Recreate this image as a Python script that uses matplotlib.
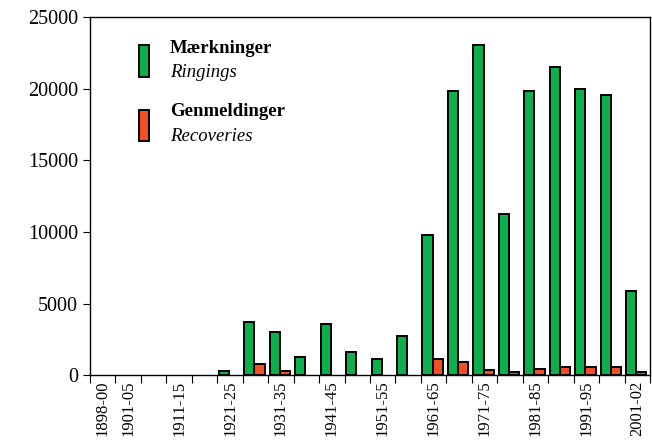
import matplotlib
matplotlib.use("Agg")
import matplotlib.pyplot as plt
from matplotlib.patches import Rectangle
import numpy as np

plt.rcParams['font.family'] = ['Liberation Serif', 'DejaVu Serif']

perioder = ["1898-00", "1901-05", "1906-10", "1911-15", "1916-20", "1921-25",
            "1926-30", "1931-35", "1936-40", "1941-45", "1946-50", "1951-55",
            "1956-60", "1961-65", "1966-70", "1971-75", "1976-80", "1981-85",
            "1986-90", "1991-95", "1996-00", "2001-02"]
maerkninger = [0, 0, 0, 0, 0, 300, 3700, 3000, 1300, 3550, 1600, 1150,
               2700, 9750, 19850, 23050, 11250, 19850, 21500, 19950, 19550, 5900]
genmeldinger = [0, 0, 0, 0, 0, 0, 750, 300, 0, 0, 0, 0,
                0, 1150, 900, 350, 200, 450, 600, 600, 600, 200]
vis_labels = ["1898-00", "1901-05", "1911-15", "1921-25", "1931-35", "1941-45",
              "1951-55", "1961-65", "1971-75", "1981-85", "1991-95", "2001-02"]

groen = "#0bb04b"
roed = "#f24f26"

fig = plt.figure(figsize=(6.52, 4.44), dpi=100)
ax = fig.add_axes([0.138, 0.155, 0.859, 0.807])

x = np.arange(len(perioder))
b = 0.4
m = np.array(maerkninger)
g = np.array(genmeldinger)
# skip empty periods (no bar drawn)
ax.bar(x[m > 0] - 0.24, m[m > 0], b, color=groen, edgecolor="black", linewidth=1.4)
ax.bar(x[g > 0] + 0.16, g[g > 0], b, color=roed, edgecolor="black", linewidth=1.4)

ax.set_xlim(-0.5, len(perioder) - 0.5)
ax.set_ylim(0, 25000)
ax.set_yticks(range(0, 25001, 5000))
ax.tick_params(axis="y", labelsize=14.5, length=5, direction="out")

# ticks at category boundaries, labels at centres
ax.set_xticks(np.arange(len(perioder) + 1) - 0.5)
ax.set_xticklabels([])
ax.set_xticks([perioder.index(p) for p in vis_labels], minor=True)
ax.set_xticklabels(vis_labels, minor=True, rotation=90, fontsize=12)
ax.tick_params(axis="x", which="major", length=6)
ax.tick_params(axis="x", which="minor", length=0, pad=4)

for s in ax.spines.values():
    s.set_linewidth(1.0)

# legend
ax.add_patch(Rectangle((0.088, 0.833), 0.018, 0.088, transform=ax.transAxes,
                       facecolor=groen, edgecolor="black", linewidth=1.4))
ax.add_patch(Rectangle((0.088, 0.653), 0.018, 0.088, transform=ax.transAxes,
                       facecolor=roed, edgecolor="black", linewidth=1.4))
ax.text(0.143, 0.913, "Mærkninger", transform=ax.transAxes, fontsize=13.5,
        fontweight="bold", va="center")
ax.text(0.143, 0.845, "Ringings", transform=ax.transAxes, fontsize=13.5,
        style="italic", va="center")
ax.text(0.143, 0.735, "Genmeldinger", transform=ax.transAxes, fontsize=13.5,
        fontweight="bold", va="center")
ax.text(0.143, 0.667, "Recoveries", transform=ax.transAxes, fontsize=13.5,
        style="italic", va="center")

fig.savefig("out.png", dpi=100)
